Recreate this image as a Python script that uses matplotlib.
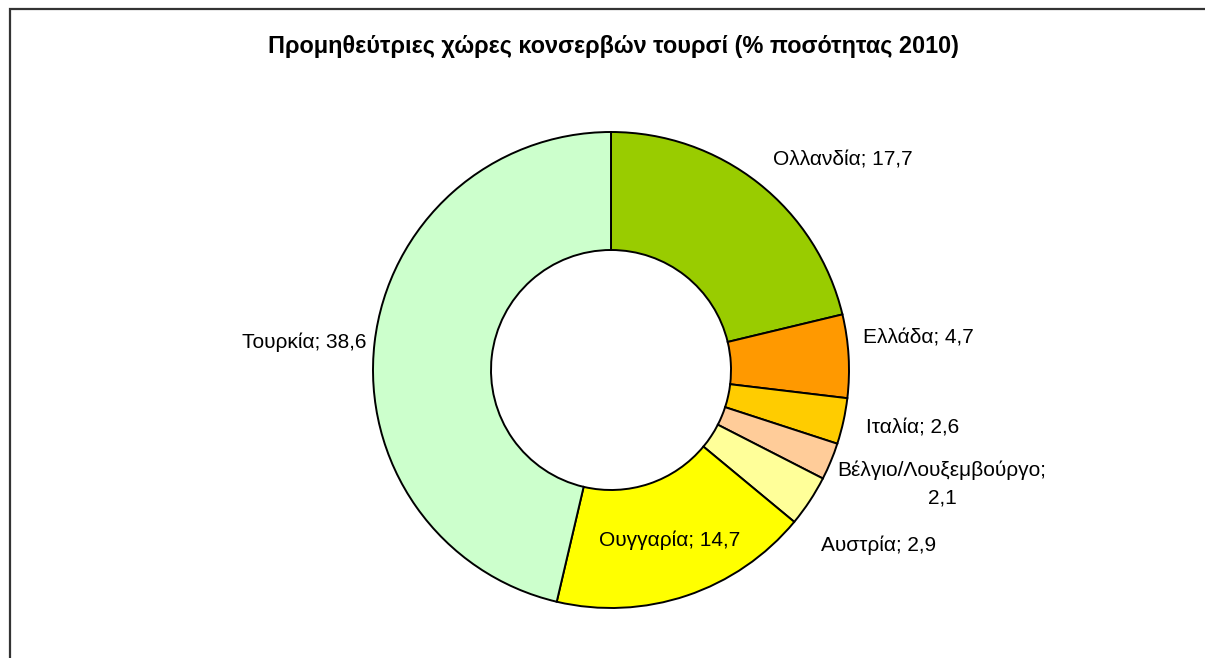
import matplotlib
matplotlib.use("Agg")
import matplotlib.pyplot as plt
from matplotlib.patches import Rectangle

# Data
countries = ["Ολλανδία", "Ελλάδα", "Ιταλία", "Βέλγιο/Λουξεμβούργο", "Αυστρία", "Ουγγαρία", "Τουρκία"]
values = [17.7, 4.7, 2.6, 2.1, 2.9, 14.7, 38.6]
value_labels = ["17,7", "4,7", "2,6", "2,1", "2,9", "14,7", "38,6"]
colors = ["#99CC00", "#FF9900", "#FFCC00", "#FFCC99", "#FFFF99", "#FFFF00", "#CCFFCC"]
title = "Προμηθεύτριες χώρες κονσερβών τουρσί (% ποσότητας 2010)"

# Layout (pixel coordinates, y measured from top)
W, H = 1205, 658
cx, cy = 611, 370
R_out, R_in = 238, 120
label_pos = [(843, 160), (918, 338), (913, 428), (942, 484), (879, 545), (670, 540), (304, 342)]

plt.rcParams['font.family'] = ['Liberation Sans', 'DejaVu Sans']
fig = plt.figure(figsize=(W / 100, H / 100), dpi=100)
ax = fig.add_axes([0, 0, 1, 1])
ax.pie(values, colors=colors, startangle=90, counterclock=False,
       center=(cx, H - cy), radius=R_out,
       wedgeprops=dict(width=R_out - R_in, edgecolor="black", linewidth=1.4))
ax.set_xlim(0, W)
ax.set_ylim(0, H)
ax.set_aspect('auto')
ax.axis('off')

for name, vl, (px, py) in zip(countries, value_labels, label_pos):
    txt = f"{name}; {vl}"
    if name.startswith("Βέλγιο"):
        txt = f"{name};\n{vl}"
    ax.text(px, H - py, txt, ha="center", va="center", fontsize=15,
            color="black", linespacing=1.55)

ax.text(613, H - 46, title, ha="center", va="center", fontsize=16.9,
        fontweight="bold", color="black")

# Outer frame (extends past right and bottom edges)
fig.patches.append(Rectangle((9.5 / W, -0.05), 1.1, (H - 8.5) / H + 0.05,
                             transform=fig.transFigure, fill=False,
                             edgecolor="#333333", linewidth=1.6))

fig.savefig("out.png", dpi=100)
